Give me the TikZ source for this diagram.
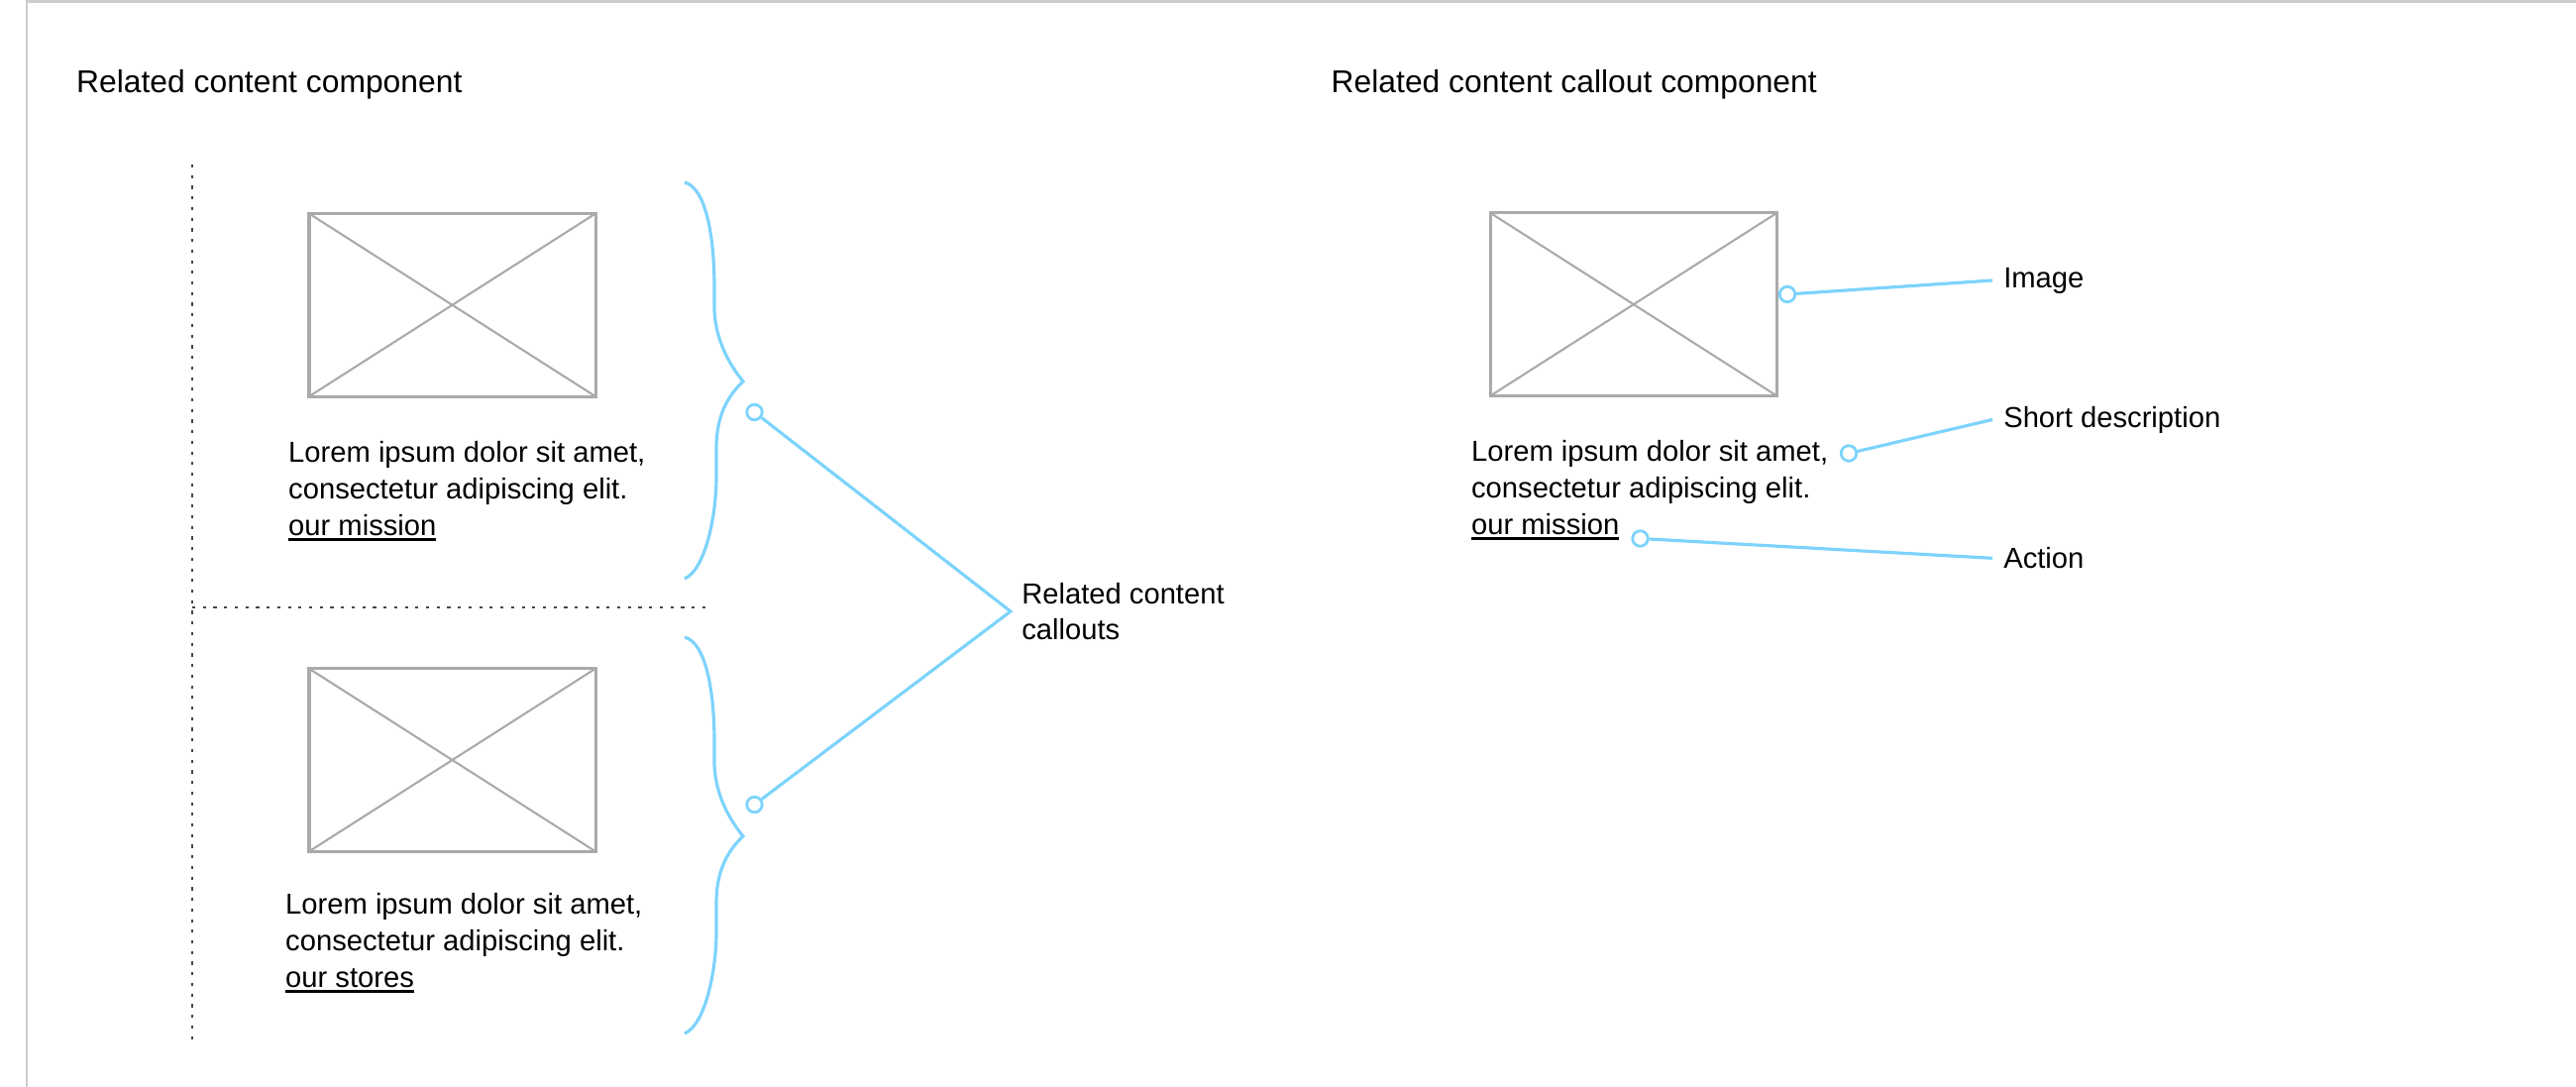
\documentclass[tikz,border=0pt]{standalone}
\usepackage{fontspec}
\setmainfont{Liberation Sans}
\usetikzlibrary{positioning}
\definecolor{callblue}{RGB}{125,211,252}
\definecolor{boxgray}{RGB}{170,170,170}
\definecolor{framegray}{RGB}{204,204,204}
\definecolor{dotgray}{RGB}{70,70,70}
\newcommand{\ulink}[1]{\setbox0\hbox{#1}\rlap{\rule[-1.5pt]{\wd0}{0.8pt}}\box0}

\begin{document}
\begin{tikzpicture}[x=0.01cm, y=-0.01cm,
    title/.style={anchor=base west, inner sep=0, font=\fontsize{9.05}{11}\selectfont},
    blurb/.style={anchor=north west, inner sep=0, align=left,
                  font=\fontsize{8.3}{10.5}\selectfont},
    lbl/.style={anchor=west, inner xsep=3pt, inner ysep=0, align=left,
                font=\fontsize{8.3}{10.05}\selectfont},
    imgbox/.style={draw=boxgray, line width=0.9pt, minimum width=2.89cm,
                   minimum height=1.845cm, inner sep=0,
        path picture={\draw[boxgray, line width=0.6pt]
            (path picture bounding box.north west) -- (path picture bounding box.south east)
            (path picture bounding box.south west) -- (path picture bounding box.north east);}},
    hotspot/.style={circle, draw=callblue, fill=white, line width=0.8pt,
                    minimum size=0.155cm, inner sep=0},
    bluelink/.style={callblue, line width=0.9pt},
    divider/.style={dotgray, line width=0.7pt, dash pattern=on 0.9pt off 2.15pt}
]
\useasboundingbox (0,0) rectangle (2600,1097);
\draw[framegray, line width=0.8pt] (27,1097) -- (27,1.5) -- (2600,1.5);

% Related content component
\node[title] (headA) at (76.5,93.8) {Related content component};
\draw[divider] (194,166) -- (194,1054);
\draw[divider] (194,613) -- (713,613);
\node[imgbox] (imgA) at (456.5,307.8) {};
\node[blurb] (txtA) at (290.5,444.7) {Lorem ipsum dolor sit amet,\\consectetur adipiscing elit.\\\ulink{our mission}};
\node[imgbox] (imgB) at (456.5,767) {};
\node[blurb] (txtB) at (287.5,901) {Lorem ipsum dolor sit amet,\\consectetur adipiscing elit.\\\ulink{our stores}};
\foreach \dy in {0,459}
  \draw[bluelink, shift={(0,\dy)}] (691,184) .. controls (713,190) and (721,240) .. (721,290)
    -- (721,312) .. controls (722,345) and (738,370) .. (750,385)
    .. controls (736,398) and (723,418) .. (723,452) -- (723,482)
    .. controls (723,520) and (712,575) .. (691,584);
\node[hotspot] (hA) at (761.5,416) {};
\node[hotspot] (hB) at (761.5,812) {};
\coordinate (apex) at (1020,617);
\node[lbl, right=0pt of apex] (lCall) {Related content\\callouts};
\draw[bluelink] (hA) -- (apex) -- (hB);

% Related content callout component
\node[title] (headB) at (1343,93.8) {Related content callout component};
\node[imgbox] (imgC) at (1648.8,307.2) {};
\node[blurb] (txtC) at (1484.4,443.7) {Lorem ipsum dolor sit amet,\\consectetur adipiscing elit.\\\ulink{our mission}};
\node[hotspot] (hImg) at (1804,297) {};
\node[hotspot] (hDesc) at (1866,457.5) {};
\node[hotspot] (hAct) at (1655.5,543.5) {};
\node[lbl] (lImg) at (2011,283) {Image};
\node[lbl] (lDesc) at (2011,423.5) {Short description};
\node[lbl] (lAct) at (2011,563.3) {Action};
\draw[bluelink] (hImg) -- (lImg.west);
\draw[bluelink] (hDesc) -- (lDesc.west);
\draw[bluelink] (hAct) -- (lAct.west);
\end{tikzpicture}
\end{document}
